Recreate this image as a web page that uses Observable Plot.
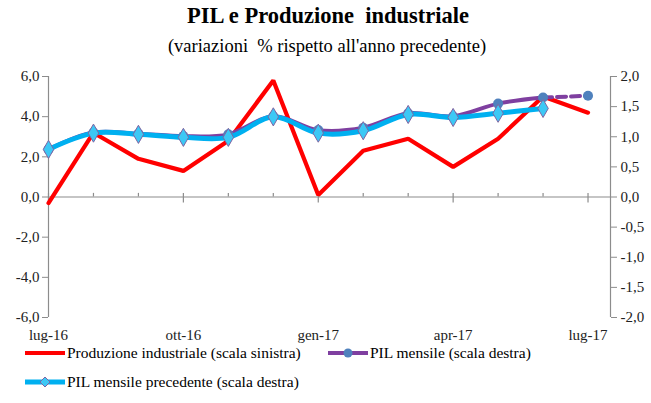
<!DOCTYPE html>
<html><head><meta charset="utf-8">
<script src="https://cdn.jsdelivr.net/npm/d3@7"></script>
<script src="https://cdn.jsdelivr.net/npm/@observablehq/plot@0.6"></script>
<style>
body{margin:0;background:#fff;font-family:"Liberation Serif",serif;}
#wrap{position:relative;width:651px;height:403px;overflow:hidden;font-family:"Liberation Serif",serif;}
#title{position:absolute;top:2px;left:0;width:656px;text-align:center;font-weight:bold;font-size:22.5px;line-height:28px;color:#000;font-family:"Liberation Serif",serif;}
#sub{position:absolute;top:35px;left:0;width:654px;text-align:center;font-size:18.5px;line-height:22px;color:#000;font-family:"Liberation Serif",serif;}
#chart{position:absolute;top:56px;left:0;}
.leg{position:absolute;font-size:15.5px;line-height:16px;color:#000;white-space:nowrap;font-family:"Liberation Serif",serif;}
.leg svg{position:absolute;left:0;top:-2px;}
.leg span{position:absolute;left:42px;top:0px;font-family:"Liberation Serif",serif;}
</style></head>
<body><div id="wrap">
<div id="title">PIL e Produzione&nbsp; industriale</div>
<div id="sub">(variazioni&nbsp; % rispetto all'anno precedente)</div>
<div id="chart"></div>
<div class="leg" style="left:25px;top:345px;width:300px;height:16px;"><svg width="42" height="20"><line x1="0" x2="40" y1="10" y2="10" stroke="#FF0000" stroke-width="4"/></svg><span>Produzione industriale (scala sinistra)</span></div>
<div class="leg" style="left:328px;top:345px;width:300px;height:16px;"><svg width="42" height="20"><line x1="0" x2="40" y1="10" y2="10" stroke="#7F3FA0" stroke-width="4"/><circle cx="20" cy="10" r="4.5" fill="#4F81BD"/></svg><span>PIL mensile (scala destra)</span></div>
<div class="leg" style="left:25px;top:374px;width:300px;height:16px;"><svg width="42" height="20"><line x1="0" x2="40" y1="10" y2="10" stroke="#00B0F0" stroke-width="5"/><path d="M20,5 L25,10 L20,15 L15,10 Z" fill="#3CC8F5" stroke="#8064A2" stroke-width="1"/></svg><span>PIL mensile precedente (scala destra)</span></div>
</div>
<script>
const months = ["lug-16","ago-16","set-16","ott-16","nov-16","dic-16","gen-17","feb-17","mar-17","apr-17","mag-17","giu-17","lug-17"];
const produzione = [-0.3, 3.2, 1.9, 1.3, 2.8, 5.8, 0.1, 2.3, 2.9, 1.5, 2.9, 5.0, 4.2];
const pilMensile = [0.79, 1.07, 1.05, 1.01, 1.04, 1.34, 1.11, 1.15, 1.39, 1.34, 1.55, 1.65, 1.68];
const pilPrecedente = [0.79, 1.06, 1.04, 0.99, 0.99, 1.33, 1.06, 1.10, 1.37, 1.32, 1.39, 1.47];
const leftTicks = [-6, -4, -2, 0, 2, 4, 6];
const rightTicks = [-2, -1.5, -1, -0.5, 0, 0.5, 1, 1.5, 2];
const labelMonths = ["lug-16","ott-16","gen-17","apr-17","lug-17"];

const R = 3; // right scale factor (left units per right unit)
const fmt = d => d.toFixed(1).replace(".", ",");
const red = produzione.map((v,i)=>({i, v}));
const pur = pilMensile.map((v,i)=>({i, v: v*R}));
const purSolid = pur.slice(0, 12);
const purDash = pur.slice(11, 13);
const blu = pilPrecedente.map((v,i)=>({i, v: v*R}));
const allIdx = months.map((m,i)=>i);
const majorIdx = labelMonths.map(m => months.indexOf(m));
const minorIdx = allIdx.filter(i => !majorIdx.includes(i));

const chart = Plot.plot({
  width: 651, height: 291,
  marginTop: 20, marginBottom: 30, marginLeft: 48, marginRight: 41,
  style: {fontFamily: "Liberation Serif, serif", fontSize: "15px", color: "#222", background: "transparent"},
  x: {type: "linear", domain: [0, 12.5], axis: null},
  y: {domain: [-6, 6], axis: null},
  marks: [
    Plot.ruleX([0, 12.5], {y1: -6, y2: 6, stroke: "#8c8c8c", strokeWidth: 1.2}),
    Plot.ruleY([0], {x1: 0, x2: 12.5, stroke: "#8c8c8c", strokeWidth: 1.2}),
    Plot.ruleX(minorIdx, {x: d=>d, y1: 0, y2: 0.18, stroke: "#8c8c8c", strokeWidth: 1.2}),
    Plot.ruleX(majorIdx, {x: d=>d, y1: -0.3, y2: 0.18, stroke: "#8c8c8c", strokeWidth: 1.2}),
    Plot.axisY({anchor: "left", ticks: leftTicks, tickFormat: fmt, tickSize: 6, tickPadding: 3, stroke: "#8c8c8c", fill: "#222", label: null}),
    Plot.axisY({anchor: "right", ticks: rightTicks.map(t=>t*R), tickFormat: d => fmt(d/R), tickSize: 6, tickPadding: 4, stroke: "#8c8c8c", fill: "#222", label: null}),
    Plot.axisX({anchor: "bottom", ticks: majorIdx, tickFormat: i => months[i], tickSize: 0, tickPadding: 12, fill: "#222", label: null}),
    Plot.line(red, {x: "i", y: "v", stroke: "#FF0000", strokeWidth: 4.2, strokeLinejoin: "miter"}),
    Plot.line(purSolid, {x: "i", y: "v", stroke: "#7F3FA0", strokeWidth: 4, curve: "catmull-rom"}),
    Plot.line(purDash, {x: "i", y: "v", stroke: "#7F3FA0", strokeWidth: 4, strokeDasharray: "9,5"}),
    Plot.dot(pur, {x: "i", y: "v", r: 5, fill: "#4F81BD"}),
    Plot.line(blu, {x: "i", y: "v", stroke: "#00B0F0", strokeWidth: 5, curve: "catmull-rom"}),
    Plot.dot(blu, {x: "i", y: "v", symbol: "diamond", r: 5.5, fill: "#3CC8F5", stroke: "#8064A2", strokeWidth: 1})
  ]
});
document.getElementById("chart").appendChild(chart);
</script>
</body></html>
